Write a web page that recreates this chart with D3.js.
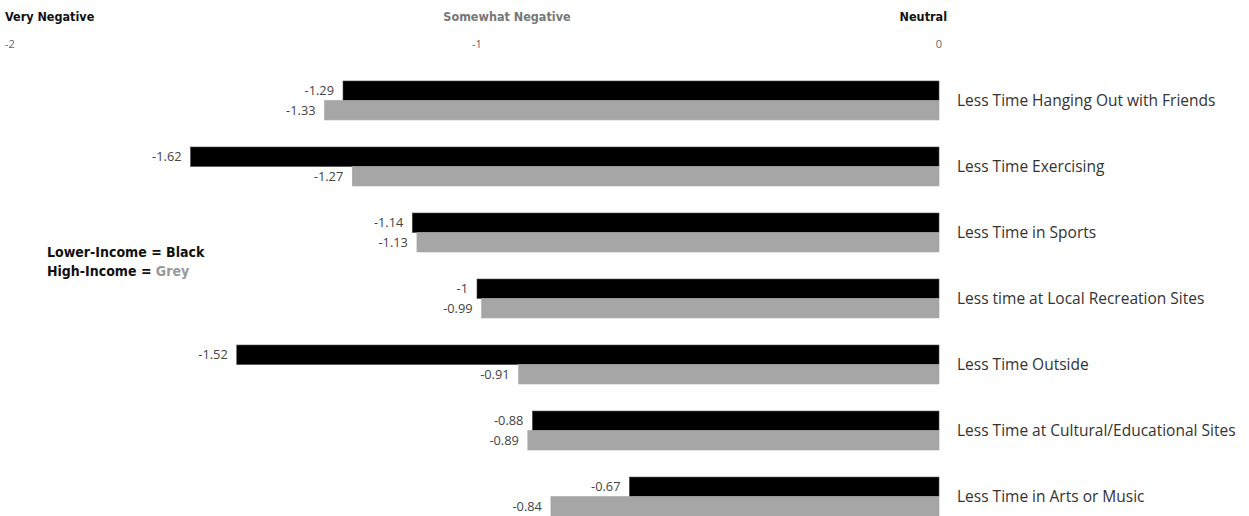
<!DOCTYPE html>
<html>
<head>
<meta charset="utf-8">
<script src="https://cdn.jsdelivr.net/npm/d3@7"></script>
<style>
  html, body { margin: 0; padding: 0; background: #fff; }
  svg { display: block; }
  .head { font-family: "Liberation Sans Narrow", "DejaVu Sans Condensed", "Roboto", sans-serif; font-weight: bold; font-stretch: condensed; font-size: 12.5px; }
  .tick { font-family: "Open Sans", sans-serif; font-size: 11px; fill: #666; }
  .val { font-family: "Open Sans", sans-serif; font-size: 12.8px; fill: #444; }
  .cat { font-family: "Open Sans", sans-serif; font-size: 15.5px; fill: #333; }
</style>
</head>
<body>
<svg id="chart" width="1249" height="516"></svg>
<script>
// Categories, top to bottom
const categories = [
  "Less Time Hanging Out with Friends",
  "Less Time Exercising",
  "Less Time in Sports",
  "Less time at Local Recreation Sites",
  "Less Time Outside",
  "Less Time at Cultural/Educational Sites",
  "Less Time in Arts or Music"
];
// Mean rating per group (-2 = very negative, 0 = neutral)
const lowerIncome = [-1.29, -1.62, -1.14, -1, -1.52, -0.88, -0.67];
const highIncome  = [-1.33, -1.27, -1.13, -0.99, -0.91, -0.89, -0.84];
// Scale anchors and their headings
const tickValues = [-2, -1, 0];
const tickHeads  = ["Very Negative", "Somewhat Negative", "Neutral"];

const svg = d3.select("#chart");

const x = d3.scaleLinear().domain([-2, 0]).range([15, 939]);
const y = d3.scaleBand().domain(categories).range([81, 516]).paddingInner(0.41).paddingOuter(0);
const sub = d3.scaleBand().domain(["low", "high"]).range([0, y.bandwidth()]);

const series = [
  { key: "low",  values: lowerIncome, fill: "#000000", stroke: "#444" },
  { key: "high", values: highIncome,  fill: "#a6a6a6", stroke: "#a6a6a6" }
];

// Headings above the value ticks
const headX = [x(-2) - 10, x(-1) + 30, x(0) + 8];
const headAnchor = ["start", "middle", "end"];
const headFill = ["#111", "#777", "#111"];
svg.selectAll("text.head").data(tickHeads).join("text")
  .attr("class", "head")
  .attr("x", (d, i) => headX[i])
  .attr("y", 21)
  .attr("text-anchor", (d, i) => headAnchor[i])
  .attr("fill", (d, i) => headFill[i])
  .text(d => d);

// Value ticks along the top
svg.selectAll("text.tick").data(tickValues).join("text")
  .attr("class", "tick")
  .attr("x", d => d === -2 ? 5 : x(d))
  .attr("y", 48)
  .attr("text-anchor", d => d === -2 ? "start" : "middle")
  .text(d => String(d));

// Bars and value labels
const groups = svg.selectAll("g.row").data(categories).join("g")
  .attr("class", "row")
  .attr("transform", d => `translate(0,${y(d)})`);

series.forEach(s => {
  groups.append("rect")
    .attr("x", (d, i) => x(s.values[i]))
    .attr("y", sub(s.key))
    .attr("width", (d, i) => x(0) - x(s.values[i]))
    .attr("height", sub.bandwidth())
    .attr("fill", s.fill)
    .attr("stroke", s.stroke)
    .attr("stroke-width", 0.6);

  groups.append("text")
    .attr("class", "val")
    .attr("x", (d, i) => x(s.values[i]) - 9)
    .attr("y", sub(s.key) + sub.bandwidth() / 2)
    .attr("dy", "0.35em")
    .attr("text-anchor", "end")
    .text((d, i) => s.values[i]);
});

// Category labels to the right of the zero line
groups.append("text")
  .attr("class", "cat")
  .attr("x", x(0) + 18)
  .attr("y", y.bandwidth() / 2)
  .attr("dy", "0.35em")
  .text(d => d);

// Legend
const legend = svg.append("g").attr("class", "head").style("font-size", "14px");
legend.append("text").attr("x", 47).attr("y", 257)
  .attr("fill", "#111").text("Lower-Income = Black");
const l2 = legend.append("text").attr("x", 47).attr("y", 276).attr("fill", "#111");
l2.append("tspan").text("High-Income = ");
l2.append("tspan").attr("fill", "#999").text("Grey");
</script>
</body>
</html>
